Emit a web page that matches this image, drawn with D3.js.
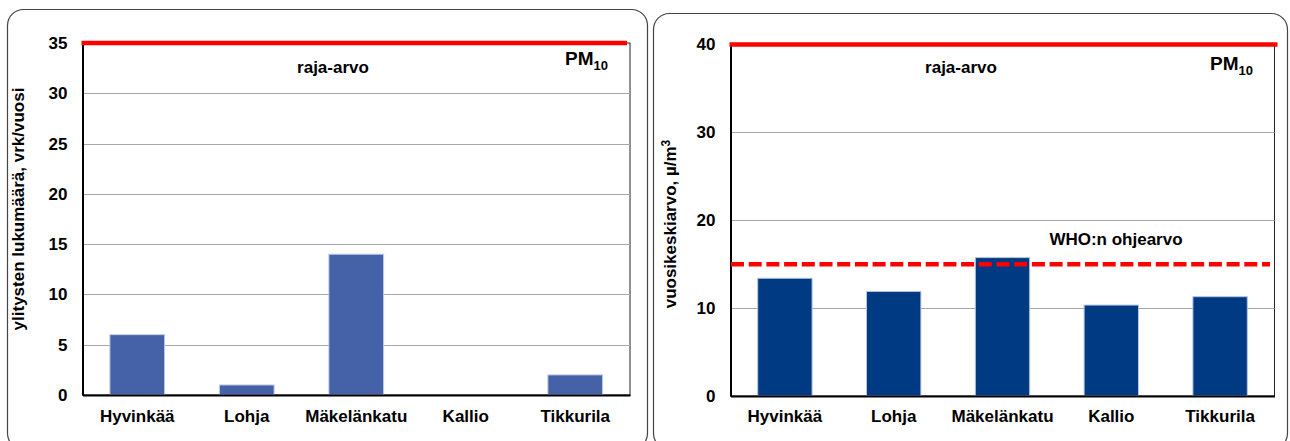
<!DOCTYPE html>
<html>
<head>
<meta charset="utf-8">
<script src="https://cdn.jsdelivr.net/npm/d3@7"></script>
<style>
  html, body { margin: 0; padding: 0; background: #fff; }
  svg { display: block; }
  text { font-family: "Liberation Sans", Arial, sans-serif; font-weight: bold; fill: #000; }
</style>
</head>
<body>
<svg id="chart" width="1290" height="441"></svg>
<script>
// ---- data ----
const categories = ["Hyvinkää", "Lohja", "Mäkelänkatu", "Kallio", "Tikkurila"];
const exceedanceDays = [6, 1, 14, 0, 2];
const annualMeans = [13.4, 11.9, 15.75, 10.35, 11.3];
const leftTicks = [0, 5, 10, 15, 20, 25, 30, 35];
const rightTicks = [0, 10, 20, 30, 40];
const leftLimit = 35;
const rightLimit = 40;
const whoGuideline = 15;
const leftTitle = "ylitysten lukumäärä, vrk/vuosi";
const rightTitle = "vuosikeskiarvo, µ/m";
const limitLabel = "raja-arvo";
const whoLabel = "WHO:n ohjearvo";

const svg = d3.select("#chart");

function panel(cfg) {
  const g = svg.append("g");
  // rounded frame
  g.append("rect")
    .attr("x", cfg.box[0]).attr("y", cfg.box[1])
    .attr("width", cfg.box[2]).attr("height", cfg.box[3])
    .attr("rx", 16).attr("ry", 16)
    .attr("fill", "#fff").attr("stroke", "#444").attr("stroke-width", 1.2);

  const x = d3.scaleBand().domain(categories)
    .range([cfg.px0, cfg.px1]).paddingInner(0.5).paddingOuter(0.25);
  const y = d3.scaleLinear().domain([0, cfg.max]).range([cfg.py0, cfg.py1]);

  // plot frame
  g.append("rect")
    .attr("x", cfg.px0).attr("y", y(cfg.max))
    .attr("width", cfg.px1 - cfg.px0).attr("height", y(0) - y(cfg.max))
    .attr("fill", "none").attr("stroke", "#222").attr("stroke-width", 1);

  // grid
  g.append("g").selectAll("line")
    .data(cfg.ticks.filter(t => t > 0 && t < cfg.max))
    .join("line")
    .attr("x1", cfg.px0).attr("x2", cfg.px1)
    .attr("y1", d => Math.round(y(d)) + 0.5).attr("y2", d => Math.round(y(d)) + 0.5)
    .attr("stroke", "#a4a8ac").attr("stroke-width", 1);

  // bars
  g.append("g").selectAll("rect")
    .data(cfg.values)
    .join("rect")
    .attr("x", (d, i) => x(categories[i]))
    .attr("width", x.bandwidth())
    .attr("y", d => y(d))
    .attr("height", d => y(0) - y(d))
    .attr("fill", cfg.color)
    .attr("stroke", d => d > 0 ? cfg.edge : "none")
    .attr("stroke-width", 1);

  // axes
  const ya = g.append("g").attr("transform", `translate(${cfg.px0},0)`)
    .call(d3.axisLeft(y).tickValues(cfg.ticks).tickSize(0).tickPadding(15));
  ya.select(".domain").attr("stroke", "#000").attr("stroke-width", 2);
  ya.selectAll("text").style("font-size", "17px");

  const xa = g.append("g").attr("transform", `translate(0,${cfg.py0})`)
    .call(d3.axisBottom(x).tickSize(0).tickPadding(cfg.xpad));
  xa.select(".domain").attr("stroke", "#000").attr("stroke-width", 2);
  xa.selectAll("text").style("font-size", "17px");
  [ya, xa].forEach(a => a.attr("font-family", null).attr("font-size", null));

  // limit line
  g.append("line")
    .attr("x1", cfg.px0 - 1).attr("x2", cfg.px1 + cfg.limitExt)
    .attr("y1", y(cfg.max)).attr("y2", y(cfg.max))
    .attr("stroke", "#ff0000").attr("stroke-width", 4.5);

  // labels
  g.append("text").attr("x", cfg.limitX).attr("y", 73)
    .attr("text-anchor", "middle").style("font-size", "17px").text(limitLabel);

  const pm = g.append("text").attr("x", cfg.pmX).attr("y", cfg.pmY).style("font-size", "19px");
  pm.append("tspan").text("PM");
  pm.append("tspan").attr("dy", 5).style("font-size", "13px").text("10");

  // y title
  const t = g.append("text")
    .attr("transform", `translate(${cfg.titleX},${cfg.titleY}) rotate(-90)`)
    .attr("text-anchor", "middle").style("font-size", "17px");
  t.append("tspan").text(cfg.title);
  if (cfg.sup) t.append("tspan").attr("dy", -6).style("font-size", "12px").text(cfg.sup);

  return {x, y, g};
}

panel({
  box: [7.5, 9.5, 640, 440],
  px0: 82.5, px1: 630, py0: 395, py1: 43,
  max: leftLimit, ticks: leftTicks, values: exceedanceDays,
  color: "#4561a8", edge: "#c4cde6", xpad: 15, limitExt: -3,
  limitX: 333, pmX: 565, pmY: 65,
  title: leftTitle, titleX: 24, titleY: 209
});

const r = panel({
  box: [653.5, 13.5, 634, 436],
  px0: 730.5, px1: 1274.5, py0: 396, py1: 44.5,
  max: rightLimit, ticks: rightTicks, values: annualMeans,
  color: "#003a82", edge: "#b8c6e0", xpad: 14, limitExt: 3,
  limitX: 961, pmX: 1210, pmY: 70,
  title: rightTitle, sup: "3", titleX: 676, titleY: 224
});

// WHO guideline
r.g.append("line")
  .attr("x1", 731).attr("x2", 1270)
  .attr("y1", r.y(whoGuideline)).attr("y2", r.y(whoGuideline))
  .attr("stroke", "#ff0000").attr("stroke-width", 4.5)
  .attr("stroke-dasharray", "13,4.7");
r.g.append("text").attr("x", 1116).attr("y", 245)
  .attr("text-anchor", "middle").style("font-size", "17px").text(whoLabel);
</script>
</body>
</html>
